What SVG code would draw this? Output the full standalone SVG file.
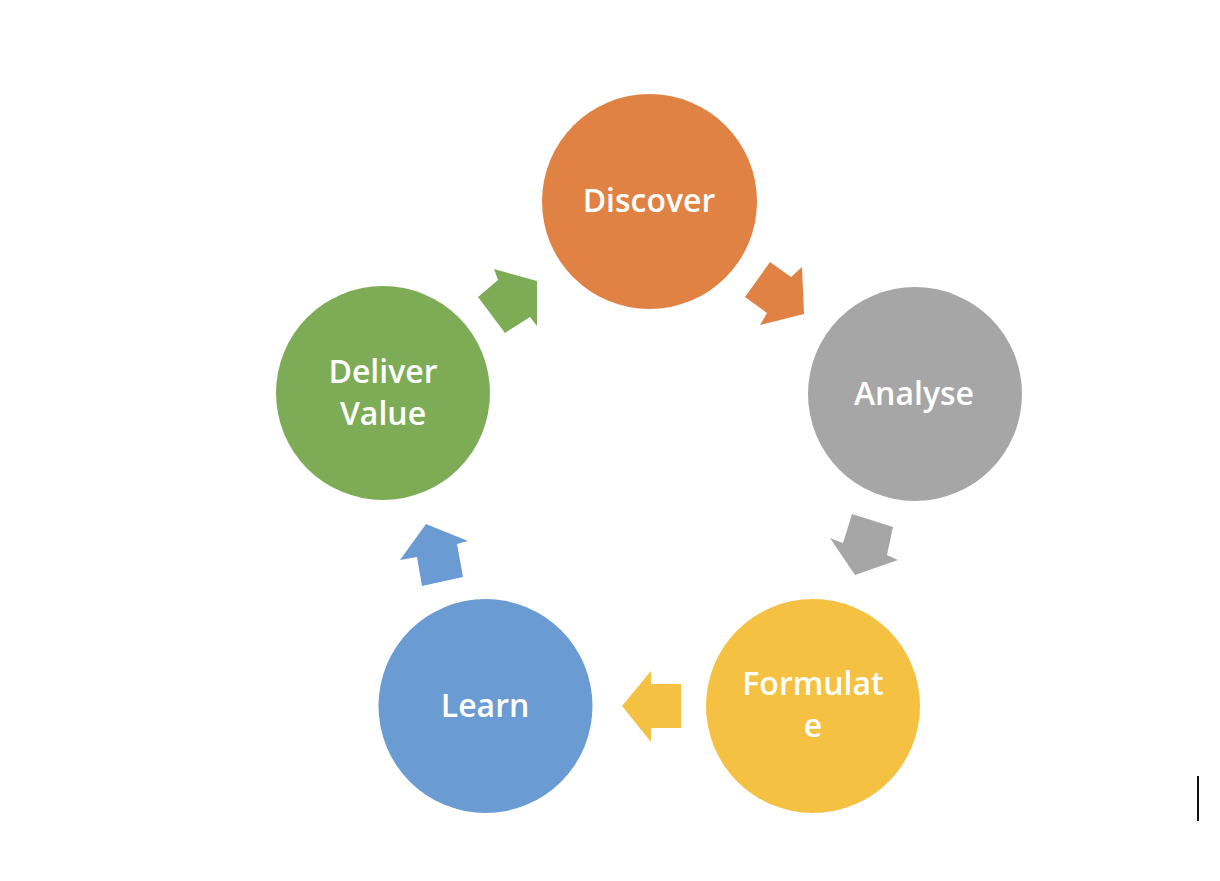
<svg xmlns="http://www.w3.org/2000/svg" width="1220" height="881" viewBox="0 0 1220 881">
<style>
.lbl{font-family:"Open Sans","Liberation Sans",sans-serif;font-size:32px;font-weight:600;fill:#ffffff;text-anchor:middle}
</style>
<rect width="1220" height="881" fill="#ffffff"/>
<g id="connectors">
<polygon fill="#E08243" points="770,262 791,277 802,267 804,314 760,325 767,313 745,297"/>
<polygon fill="#A6A6A6" points="852,514 893,527 887,555 898,560 855,575 830,538 843,543"/>
<polygon fill="#F5C143" points="622,706 651,671 651,684 681,684 681,728 651,728 651,742"/>
<polygon fill="#6A9BD2" points="426,524 468,541 457,544 463,577 422,586 417,557 400,560"/>
<polygon fill="#7EAC56" points="494,269 537,281 537,326 530,317 505,333 478,297 498,280"/>
</g>
<g id="discover">
<circle cx="649.5" cy="201.5" r="107.5" fill="#E08243"/>
<text class="lbl" x="649" y="212">Discover</text>
</g>
<g id="analyse">
<circle cx="915" cy="394" r="107" fill="#A6A6A6"/>
<text class="lbl" x="914" y="405">Analyse</text>
</g>
<g id="formulate">
<circle cx="813" cy="706" r="107" fill="#F5C143"/>
<text class="lbl" x="813" y="695">Formulat</text>
<text class="lbl" x="813" y="737">e</text>
</g>
<g id="learn">
<circle cx="485.5" cy="706" r="107" fill="#6A9BD2"/>
<text class="lbl" x="485" y="717">Learn</text>
</g>
<g id="deliver">
<circle cx="383" cy="393" r="107" fill="#7EAC56"/>
<text class="lbl" x="383" y="383">Deliver</text>
<text class="lbl" x="383" y="425">Value</text>
</g>
<rect x="1197" y="776" width="2" height="45" fill="#111111"/>
</svg>
